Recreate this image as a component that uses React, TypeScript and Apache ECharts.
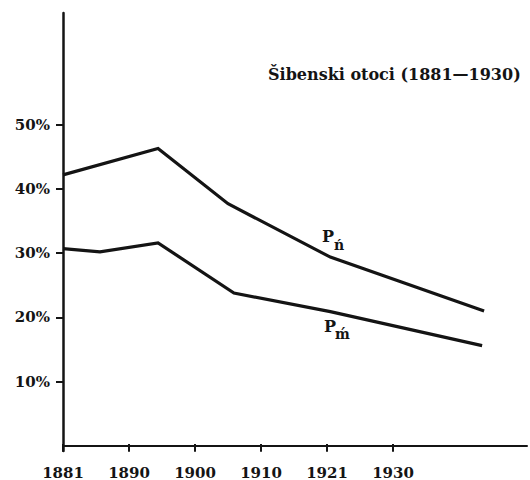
import React, { useEffect, useRef } from "react";
import * as echarts from "echarts";

// X axis: evenly spaced census ticks (index units)
const yearLabels = ["1881", "1890", "1900", "1910", "1921", "1930"];
const yearTickPos = [0, 1, 2, 3, 4, 5];
const yTickValues = [10, 20, 30, 40, 50];

// P'n series (x in tick-index units, y in %)
const pnX = [0, 1.44, 2.5, 4.05, 6.38];
const pnY = [42.2, 46.3, 37.7, 29.4, 21.0];

// P'm series
const pmX = [0, 0.56, 1.44, 2.59, 4.05, 6.35];
const pmY = [30.7, 30.2, 31.6, 23.8, 20.9, 15.6];

const titleText = "Šibenski otoci (1881—1930)";

const INK = "#141414";
const FONT = "DejaVu Serif";

export default function App() {
  const ref = useRef<HTMLDivElement>(null);
  useEffect(() => {
    if (!ref.current) return;
    const chart = echarts.init(ref.current, null, { renderer: "svg" });
    const xMin = 0;
    const xMax = 7.03;
    const tickStyle = { color: INK, width: 2 };
    chart.setOption({
      animation: false,
      backgroundColor: "#ffffff",
      grid: { left: 63, right: 3, top: 13, bottom: 29 },
      xAxis: [
        {
          type: "value",
          min: xMin,
          max: xMax,
          axisLine: { show: true, lineStyle: { color: INK, width: 2 } },
          axisTick: { show: true, customValues: yearTickPos, length: 6, lineStyle: tickStyle },
          axisLabel: {
            customValues: yearTickPos,
            formatter: (v: number) => yearLabels[Math.round(v)] ?? "",
            margin: 14,
            fontFamily: FONT,
            fontWeight: "bold",
            fontSize: 15,
            color: INK,
          },
          splitLine: { show: false },
        },
        {
          type: "value",
          min: xMin,
          max: xMax,
          position: "bottom",
          offset: 0,
          axisLine: { show: false },
          axisTick: { show: true, inside: true, customValues: yearTickPos, length: 7, lineStyle: tickStyle },
          axisLabel: { show: false },
          splitLine: { show: false },
        },
      ],
      yAxis: {
        type: "value",
        min: -0.8,
        max: 67.4,
        axisLine: { show: true, lineStyle: { color: INK, width: 2.5 } },
        axisTick: { show: true, customValues: yTickValues, length: 7, lineStyle: tickStyle },
        axisLabel: {
          customValues: yTickValues,
          formatter: (v: number) => `${v}%`,
          margin: 13,
          fontFamily: FONT,
          fontWeight: "bold",
          fontSize: 15,
          color: INK,
        },
        splitLine: { show: false },
      },
      series: [
        {
          name: "P'n",
          type: "line",
          xAxisIndex: 0,
          data: pnX.map((x, i) => [x, pnY[i]]),
          showSymbol: false,
          lineStyle: { color: INK, width: 3.2, join: "miter" },
        },
        {
          name: "P'm",
          type: "line",
          xAxisIndex: 0,
          data: pmX.map((x, i) => [x, pmY[i]]),
          showSymbol: false,
          lineStyle: { color: INK, width: 3.2, join: "miter" },
        },
      ],
      graphic: [
        {
          type: "text",
          x: 268,
          y: 74,
          style: { text: titleText, font: `bold 16px "${FONT}"`, fill: INK, align: "left", verticalAlign: "middle" },
        },
        {
          type: "text",
          x: 322,
          y: 236,
          style: { text: "P", font: `bold 16px "${FONT}"`, fill: INK, align: "left", verticalAlign: "middle" },
        },
        {
          type: "text",
          x: 334,
          y: 245,
          style: { text: "ń", font: `bold 14px "${FONT}"`, fill: INK, align: "left", verticalAlign: "middle" },
        },
        {
          type: "text",
          x: 324,
          y: 326,
          style: { text: "P", font: `bold 16px "${FONT}"`, fill: INK, align: "left", verticalAlign: "middle" },
        },
        {
          type: "text",
          x: 335,
          y: 334,
          style: { text: "ḿ", font: `bold 14px "${FONT}"`, fill: INK, align: "left", verticalAlign: "middle" },
        },
      ],
    });
    return () => chart.dispose();
  }, []);
  return (
    <div
      ref={ref}
      style={{ position: "absolute", left: 0, top: 0, width: 530, height: 480 }}
    />
  );
}
